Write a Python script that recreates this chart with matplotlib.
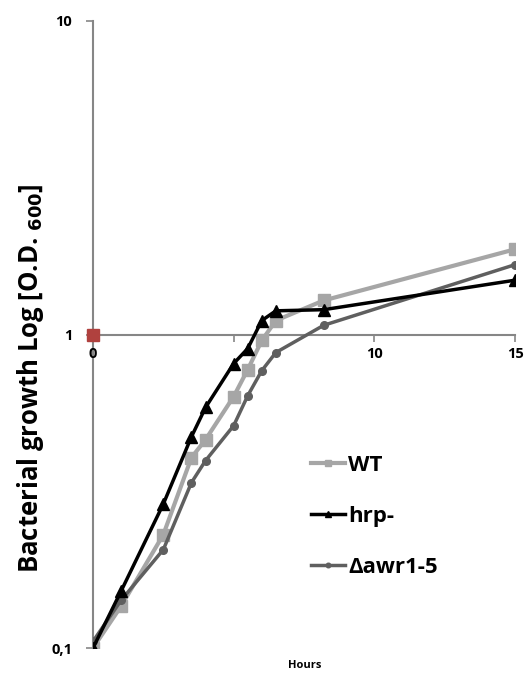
import matplotlib
matplotlib.use("Agg")
import matplotlib.pyplot as plt
from matplotlib.ticker import FixedLocator, NullLocator

# Sampling times (hours) and O.D. readings
hours = [0, 1, 2.5, 3.5, 4, 5, 5.5, 6, 6.5, 8.2, 15]
wt = [0.10, 0.136, 0.23, 0.405, 0.462, 0.634, 0.773, 0.957, 1.108, 1.284, 1.87]
hrp = [0.10, 0.152, 0.288, 0.472, 0.585, 0.808, 0.902, 1.108, 1.19, 1.20, 1.49]
awr = [0.105, 0.142, 0.206, 0.337, 0.396, 0.512, 0.638, 0.767, 0.876, 1.07, 1.67]
stray_x = [0]
stray_y = [1.0]

y_ticks = [0.1, 1, 10]
y_tick_labels = ["0,1", "1", "10"]
x_ticks = [0, 5, 10, 15]
x_tick_labels = ["0", "", "10", "15"]

AXIS = "#868686"
FONT = ["Open Sans", "DejaVu Sans"]

fig = plt.figure(figsize=(5.25, 6.75), dpi=100)
ax = fig.add_axes([93 / 525, 27 / 675, 422 / 525, 627 / 675])

ax.plot(hours, wt, color="#a6a6a6", lw=3, marker="s", ms=8, label="WT", zorder=3)
ax.plot(hours, hrp, color="#000000", lw=2.5, marker="^", ms=8, label="hrp-", zorder=4)
ax.plot(hours, awr, color="#5f5f5f", lw=2.5, marker="o", ms=5.5, label="\u0394awr1-5", zorder=3)
ax.plot(stray_x, stray_y, color="#b0413e", marker="s", ls="none", ms=9, zorder=5,
        clip_on=False)

ax.set_yscale("log")
ax.set_ylim(0.1, 10)
ax.set_xlim(0, 15)

ax.yaxis.set_major_locator(FixedLocator(y_ticks))
ax.yaxis.set_minor_locator(NullLocator())
ax.set_yticklabels(y_tick_labels)
ax.set_xticks(x_ticks)
ax.set_xticklabels(x_tick_labels)

for side in ("top", "right"):
    ax.spines[side].set_visible(False)
ax.spines["bottom"].set_position(("data", 1))
for side in ("left", "bottom"):
    ax.spines[side].set_color(AXIS)
    ax.spines[side].set_linewidth(1.5)
    ax.spines[side].set_zorder(1)

ax.tick_params(axis="both", direction="out", length=5, width=1.2, color=AXIS,
               labelsize=10.5)
ax.tick_params(axis="y", pad=10)
ax.tick_params(axis="x", pad=4)
for lab in ax.get_xticklabels() + ax.get_yticklabels():
    lab.set_fontweight("bold")
    lab.set_fontfamily(FONT)

fig.text(31 / 525, 1 - 378 / 675, "Bacterial growth Log [O.D. $_{\\mathbf{600}}$]",
         rotation=90, ha="center", va="center", fontsize=18.5, fontweight="bold",
         family=FONT)
fig.text(305 / 525, 1 - 666 / 675, "Hours", ha="center", va="center", fontsize=8,
         fontweight="bold", family=FONT)

leg = ax.legend(loc="upper left", bbox_to_anchor=(0.47, 0.34), frameon=False,
                handlelength=1.5, handletextpad=0.15, labelspacing=1.35,
                markerscale=0.6,
                prop={"family": FONT, "weight": "bold", "size": 16})

fig.savefig("out.png", dpi=100)
